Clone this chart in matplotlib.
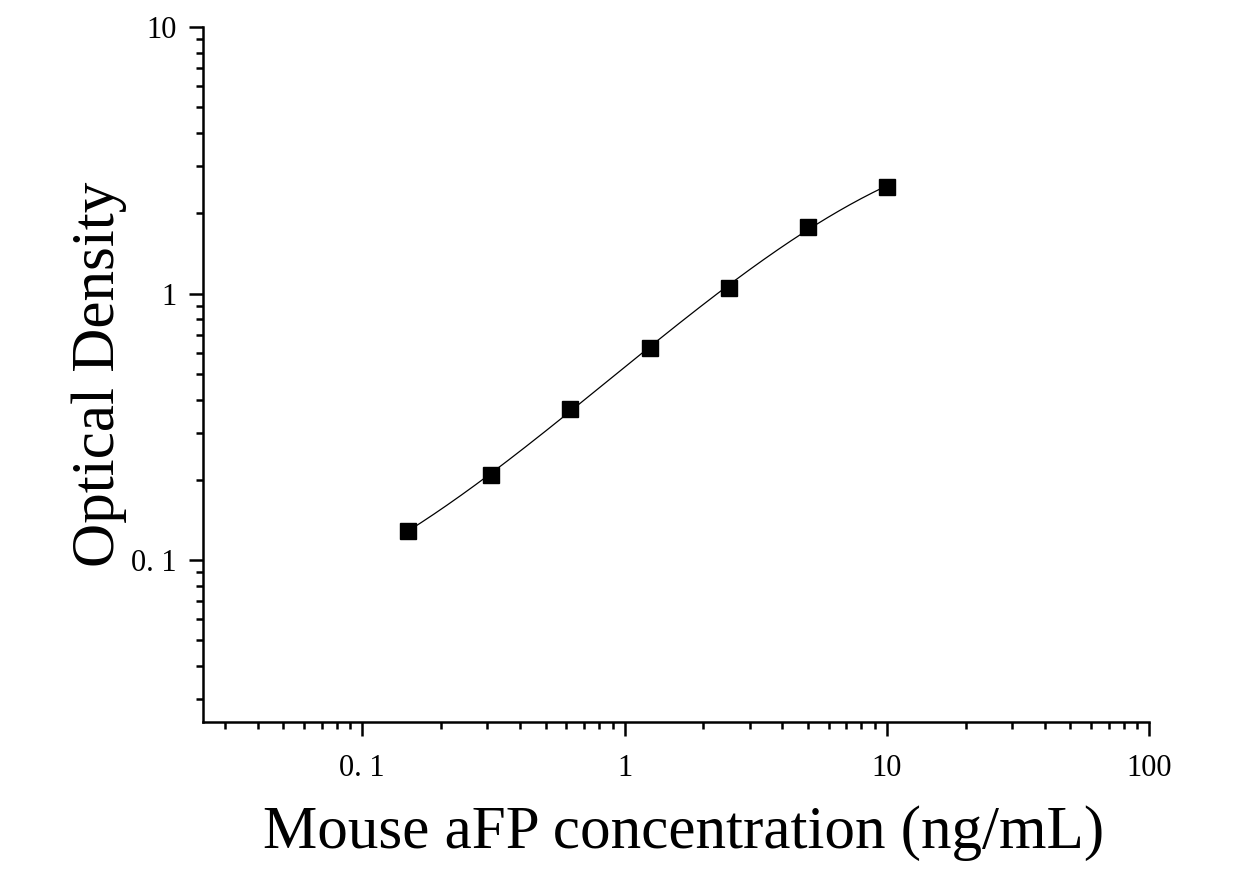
import numpy as np
import matplotlib
matplotlib.use("Agg")
import matplotlib.pyplot as plt
from matplotlib.ticker import FixedLocator, LogLocator, NullFormatter

# standard curve points
conc = [0.15, 0.31, 0.62, 1.25, 2.5, 5.0, 10.0]
od = [0.129, 0.209, 0.370, 0.627, 1.053, 1.78, 2.52]

xticks = [0.1, 1, 10, 100]
xtick_labels = ["0. 1", "1", "10", "100"]
yticks = [0.1, 1, 10]
ytick_labels = ["0. 1", "1", "10"]

plt.rcParams["font.family"] = ["Liberation Serif", "DejaVu Serif"]

fig = plt.figure(figsize=(12.45, 8.76), dpi=100)
ax = fig.add_axes([0.163, 0.176, 0.76, 0.793])

# smooth fitted curve in log-log space
lx = np.log10(conc)
ly = np.log10(od)
coef = np.polyfit(lx, ly, 3)
xs = np.linspace(lx[0], lx[-1], 300)
ax.plot(10 ** xs, 10 ** np.polyval(coef, xs), color="black", lw=0.9)
ax.plot(conc, od, "s", color="black", markersize=11.5)

ax.set_xscale("log")
ax.set_yscale("log")
ax.set_xlim(0.0247, 100)
ax.set_ylim(0.0247, 10)

ax.xaxis.set_major_locator(FixedLocator(xticks))
ax.set_xticklabels(xtick_labels)
ax.yaxis.set_major_locator(FixedLocator(yticks))
ax.set_yticklabels(ytick_labels)
ax.xaxis.set_minor_locator(LogLocator(base=10, subs=np.arange(2, 10)))
ax.yaxis.set_minor_locator(LogLocator(base=10, subs=np.arange(2, 10)))
ax.xaxis.set_minor_formatter(NullFormatter())
ax.yaxis.set_minor_formatter(NullFormatter())

for side in ["top", "right"]:
    ax.spines[side].set_visible(False)
for side in ["left", "bottom"]:
    ax.spines[side].set_linewidth(1.8)

ax.tick_params(which="major", direction="out", length=10, width=1.8,
               labelsize=22)
ax.tick_params(axis="x", which="major", pad=13)
ax.tick_params(axis="y", which="major", pad=9)
ax.tick_params(which="minor", direction="out", length=5, width=1.8)

ax.set_xlabel("Mouse aFP concentration (ng/mL)", fontsize=44, labelpad=16)
ax.set_ylabel("Optical Density", fontsize=44, labelpad=3)
ax.xaxis.label.set_x(0.508)

fig.savefig("out.png", dpi=100)
